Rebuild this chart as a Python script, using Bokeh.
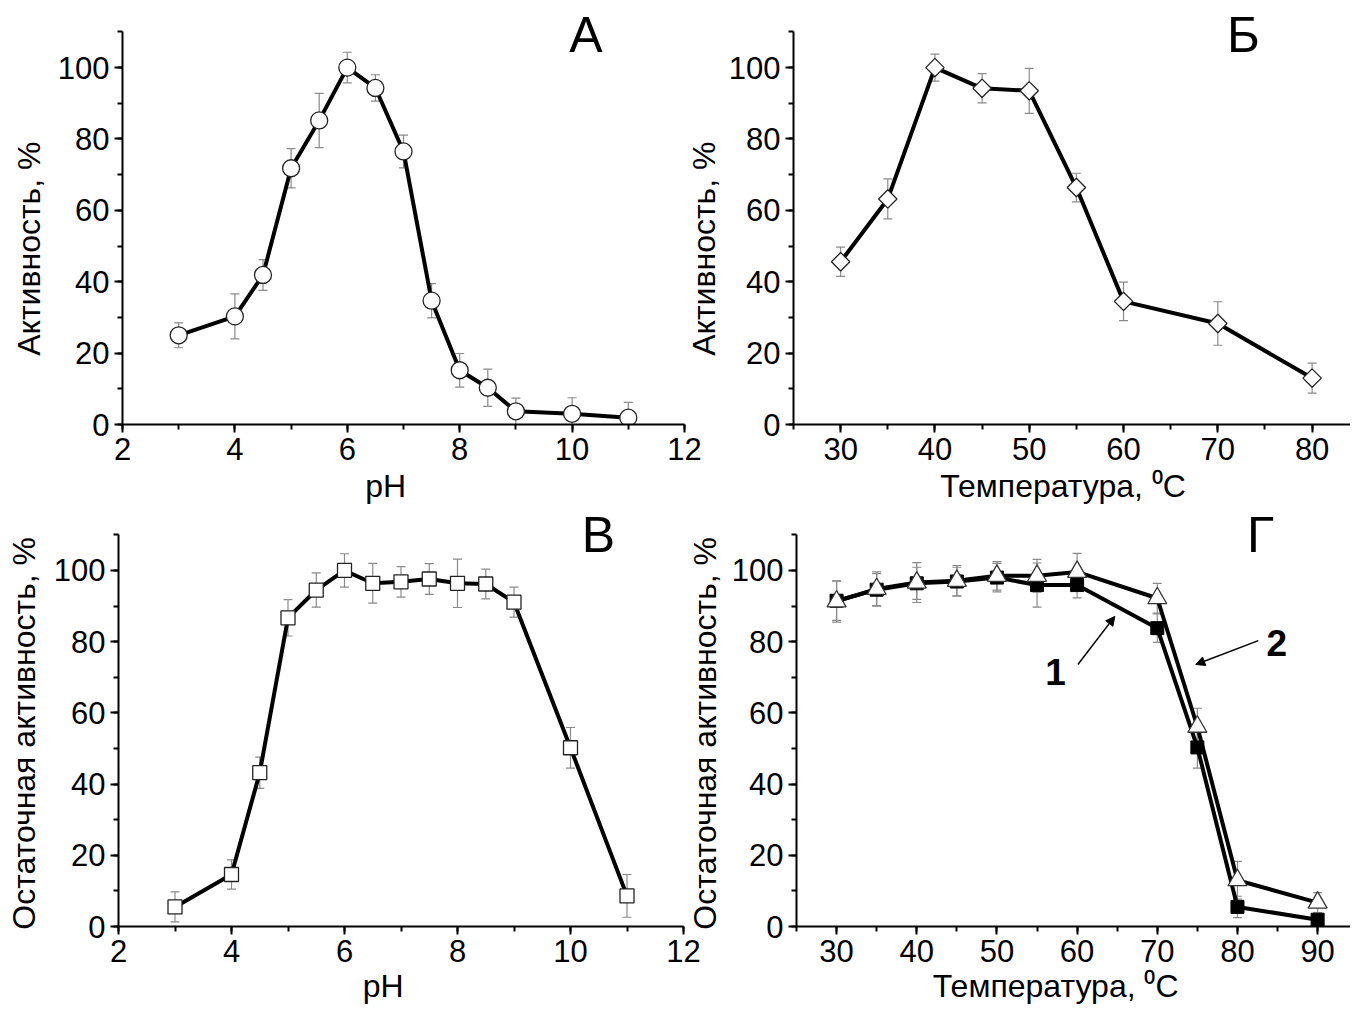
import numpy as np
from bokeh.plotting import figure
from bokeh.layouts import row, column
from bokeh.models import (ColumnDataSource, Whisker, TeeHead, Label, Arrow,
                          NormalHead, SingleIntervalTicker, Range1d)
from bokeh.embed import file_html
from bokeh.resources import INLINE

# ---------------- data ----------------
ph_a = [3, 4, 4.5, 5, 5.5, 6, 6.5, 7, 7.5, 8, 8.5, 9, 10, 11]
act_a = [25.0, 30.3, 41.9, 71.8, 85.2, 100, 94.3, 76.5, 34.7, 15.2, 10.3, 3.7, 3.0, 1.9]
err_a = [3.5, 6.3, 4.3, 5.5, 7.6, 4.3, 3.7, 4.6, 4.8, 4.7, 5.2, 3.7, 4.5, 4.3]

t_b = [30, 35, 40, 45, 50, 55, 60, 70, 80]
act_b = [45.6, 63.2, 100, 94.2, 93.5, 66.4, 34.5, 28.3, 13.0]
err_b = [4.1, 5.6, 3.8, 4.1, 6.3, 4.0, 5.4, 6.1, 4.2]

ph_c = [3, 4, 4.5, 5, 5.5, 6, 6.5, 7, 7.5, 8, 8.5, 9, 10, 11]
res_c = [5.5, 14.6, 43.2, 86.7, 94.5, 100, 96.4, 96.8, 97.6, 96.4, 96.2, 91.1, 50.2, 8.6]
err_c = [4.2, 4.1, 4.4, 5.1, 4.8, 4.7, 5.6, 4.3, 4.3, 6.8, 4.2, 4.2, 5.7, 6.0]

t_d = [30, 35, 40, 45, 50, 55, 60, 70, 75, 80, 90]
res_d1 = [91.5, 94.6, 96.4, 96.9, 98.0, 95.9, 95.9, 83.8, 50.3, 5.5, 1.9]
err_d1 = [5.5, 4.5, 4.5, 4.0, 4.0, 6.2, 3.6, 4.0, 5.8, 3.0, 1.5]
res_d2 = [91.3, 94.8, 96.6, 97.1, 98.5, 98.5, 99.6, 92.2, 56.1, 13.0, 6.7]
err_d2 = [5.8, 4.8, 5.6, 4.3, 4.0, 4.6, 5.2, 4.2, 5.2, 5.3, 2.8]

FONT = "Liberation Sans"
TICK_FS = "31px"
LAB_FS = "32px"
ERR_COLOR = "#8a8a8a"
LW = 4
NB = "\u00a0"


def make_fig(width, height, left, right, top, bottom, xr, xint,
             xlabel, ylabel, xstand, ystand):
    p = figure(width=width, height=height,
               x_range=Range1d(*xr), y_range=Range1d(0, 116),
               output_backend="svg", toolbar_location=None,
               min_border_left=left, min_border_right=right,
               min_border_top=top, min_border_bottom=bottom)
    p.grid.visible = False
    p.outline_line_color = None
    p.background_fill_color = None
    p.border_fill_color = None
    p.xaxis.ticker = SingleIntervalTicker(interval=xint, num_minor_ticks=2)
    p.yaxis.ticker = SingleIntervalTicker(interval=20, num_minor_ticks=2)
    p.yaxis.bounds = (0, 110)
    p.xaxis.axis_label = xlabel
    p.yaxis.axis_label = ylabel
    p.xaxis.axis_label_standoff = xstand
    p.yaxis.axis_label_standoff = ystand
    for ax in p.axis:
        ax.axis_line_width = 2
        ax.axis_line_color = "black"
        ax.major_tick_line_width = 2
        ax.minor_tick_line_width = 2
        ax.major_tick_line_color = "black"
        ax.minor_tick_line_color = "black"
        ax.major_tick_in = 0
        ax.major_tick_out = 8
        ax.minor_tick_in = 0
        ax.minor_tick_out = 5
        ax.major_label_text_font = FONT
        ax.major_label_text_font_size = TICK_FS
        ax.major_label_text_color = "black"
        ax.major_label_standoff = 5
        ax.axis_label_text_font = FONT
        ax.axis_label_text_font_size = LAB_FS
        ax.axis_label_text_font_style = "normal"
        ax.axis_label_text_color = "black"
    return p


def add_label(p, text, x, y, size, bold=False, units="screen"):
    p.add_layout(Label(x=x, y=y, x_units=units, y_units=units, text=text,
                       text_align="center", text_baseline="alphabetic",
                       text_font=FONT, text_font_size=size,
                       text_font_style="bold" if bold else "normal",
                       text_color="black"))


def add_err(p, x, y, e):
    lo = [a - b for a, b in zip(y, e)]
    hi = [a + b for a, b in zip(y, e)]
    src = ColumnDataSource(dict(x=x, lo=lo, hi=hi))
    p.add_layout(Whisker(source=src, base="x", lower="lo", upper="hi",
                         line_color=ERR_COLOR, line_width=1.2,
                         upper_head=TeeHead(size=9, line_color=ERR_COLOR, line_width=1.2),
                         lower_head=TeeHead(size=9, line_color=ERR_COLOR, line_width=1.2)))


# ---------------- panel A ----------------
pA = make_fig(712, 520, 122, 28, 10, 96, (2, 12), 2,
              "pH" + NB * 4, "Активность, %" + NB * 7, 5, 8)
add_err(pA, ph_a, act_a, err_a)
pA.line(ph_a, act_a, line_color="black", line_width=LW)
pA.scatter(ph_a, act_a, marker="circle", size=17, fill_color="white",
           line_color="#222222", line_width=1.3)
add_label(pA, "А", 463.5, 390, "50px")

# ---------------- panel Б ----------------
pB = make_fig(679, 520, 122, 0, 10, 96, (25, 84.07), 10,
              "Температура, \u2070C" + NB * 2, "Активность, %" + NB * 7, 5, 4)
pB.margin = (0, 0, 0, -41)
add_err(pB, t_b, act_b, err_b)
pB.line(t_b, act_b, line_color="black", line_width=LW)
pB.scatter(t_b, act_b, marker="square", angle=np.pi / 4, size=13,
           fill_color="white", line_color="#222222", line_width=1.3)
add_label(pB, "Б", 450, 390, "50px")

# ---------------- panel В ----------------
pC = make_fig(712, 507, 118, 29, 5, 89, (2, 12), 2,
              "pH" + NB * 4, "Остаточная активность, %" + NB * 3, 3, 9)
add_err(pC, ph_c, res_c, err_c)
pC.line(ph_c, res_c, line_color="black", line_width=LW)
pC.scatter(ph_c, res_c, marker="square", size=14, fill_color="white",
           line_color="#222222", line_width=1.3)
add_label(pC, "В", 480, 392, "50px")

# ---------------- panel Г ----------------
pD = make_fig(676, 507, 122, 0, 5, 89, (25, 94.1), 10,
              "Температура, \u2070C" + NB * 4, "Остаточная активность, %" + NB * 3, 3, 6)
pD.margin = (0, 0, 0, -38)
add_err(pD, t_d, res_d1, err_d1)
add_err(pD, t_d, res_d2, err_d2)
pD.line(t_d, res_d1, line_color="black", line_width=LW)
pD.line(t_d, res_d2, line_color="black", line_width=LW)
pD.scatter(t_d, res_d1, marker="square", size=13, fill_color="black",
           line_color="black", line_width=1)
pD.scatter(t_d, res_d2, marker="triangle", size=19, fill_color="white",
           line_color="#333333", line_width=1.3)
add_label(pD, "Г", 464, 392, "50px")
# curve annotations
pD.add_layout(Arrow(x_start=60.1, y_start=73.6, x_end=64.7, y_end=87.1,
                    line_color="black", line_width=1.5,
                    end=NormalHead(size=9, fill_color="black", line_color="black")))
pD.add_layout(Arrow(x_start=82.6, y_start=80.3, x_end=74.8, y_end=73.6,
                    line_color="black", line_width=1.5,
                    end=NormalHead(size=9, fill_color="black", line_color="black")))
add_label(pD, "1", 57.3, 71.6, "37px", bold=True, units="data")
add_label(pD, "2", 84.9, 79.5, "37px", bold=True, units="data")

top_row = row(pA, pB, spacing=0)
bottom_row = row(pC, pD, spacing=0)
bottom_row.margin = (-12, 0, 0, 0)
layout = column(top_row, bottom_row, spacing=0)

with open("out.html", "w") as f:
    f.write(file_html(layout, INLINE))
